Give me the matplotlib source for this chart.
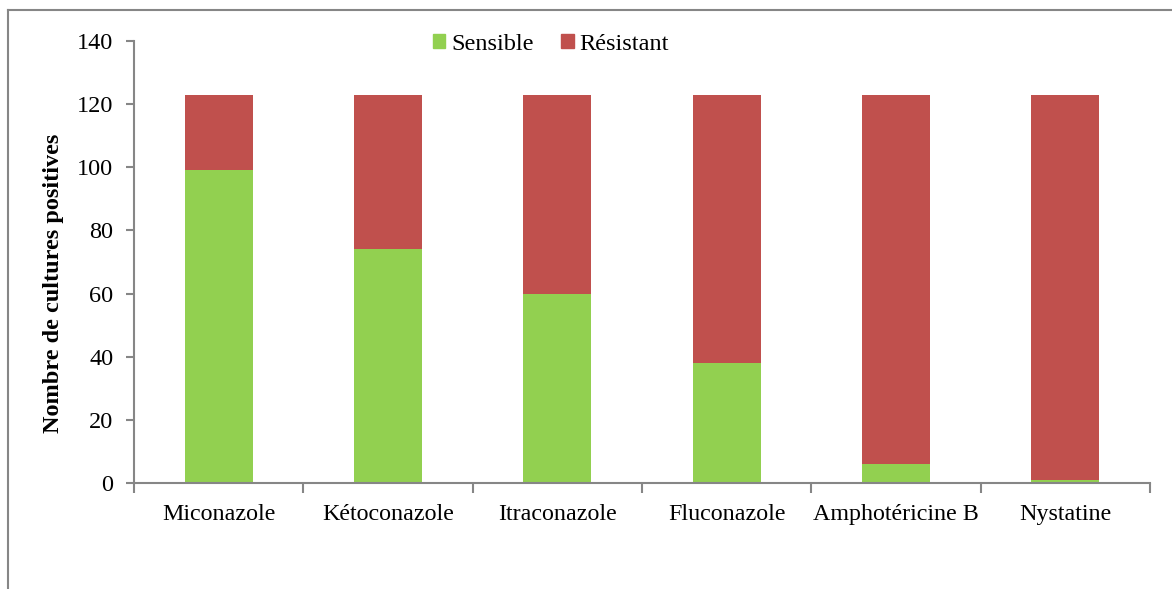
import matplotlib.pyplot as plt
import numpy as np
from matplotlib.lines import Line2D
from matplotlib.patches import Patch

plt.rcParams['font.family'] = ['Liberation Serif', 'DejaVu Serif']

antifongiques = ['Miconazole', 'Kétoconazole', 'Itraconazole', 'Fluconazole',
                 'Amphotéricine B', 'Nystatine']
sensible = [99, 74, 60, 38, 6, 1]
resistant = [24, 49, 63, 85, 117, 122]

vert = '#92D050'
rouge = '#C0504D'
gris = '#868686'

fig = plt.figure(figsize=(11.72, 5.89), dpi=100)
ax = fig.add_axes([134 / 1172, 1 - 483 / 589, (1150 - 134) / 1172, (483 - 41) / 589])

x = np.arange(len(antifongiques))
ax.bar(x, sensible, width=0.4, color=vert, edgecolor='none')
ax.bar(x, resistant, width=0.4, bottom=sensible, color=rouge, edgecolor='none')

ax.set_xlim(-0.5, len(antifongiques) - 0.5)
ax.set_ylim(0, 140)
ax.set_yticks(range(0, 141, 20))
ax.tick_params(axis='y', labelsize=17.5, length=6, color=gris, width=1.5, pad=9)

# category labels at centres, tick marks at the boundaries
ax.set_xticks(x)
ax.set_xticklabels(antifongiques, fontsize=17.3)
ax.tick_params(axis='x', length=0, pad=15)
ax.set_xticks(np.arange(-0.5, len(antifongiques)), minor=True)
ax.tick_params(axis='x', which='minor', length=7, color=gris, width=1.5)

for side in ['top', 'right']:
    ax.spines[side].set_visible(False)
for side in ['left', 'bottom']:
    ax.spines[side].set_color(gris)
    ax.spines[side].set_linewidth(1.5)

fig.text(54 / 1172, 1 - 283 / 589, 'Nombre de cultures positives', rotation=90,
         ha='center', va='center', fontsize=17.5, fontweight='bold')

handles = [Patch(color=vert, label='Sensible'), Patch(color=rouge, label='Résistant')]
fig.legend(handles=handles, loc='center', bbox_to_anchor=(551 / 1172, 1 - 44 / 589),
           ncol=2, frameon=False, fontsize=17.5, handlelength=0.5, handleheight=0.5,
           handletextpad=0.25, columnspacing=1.15)

# outer chart frame
fig.add_artist(Line2D([8 / 1172, 8 / 1172], [0, 1 - 10 / 589], transform=fig.transFigure,
                      color=gris, linewidth=1.5))
fig.add_artist(Line2D([8 / 1172, 1], [1 - 10 / 589, 1 - 10 / 589], transform=fig.transFigure,
                      color=gris, linewidth=1.5))

fig.savefig('out.png', dpi=100)
